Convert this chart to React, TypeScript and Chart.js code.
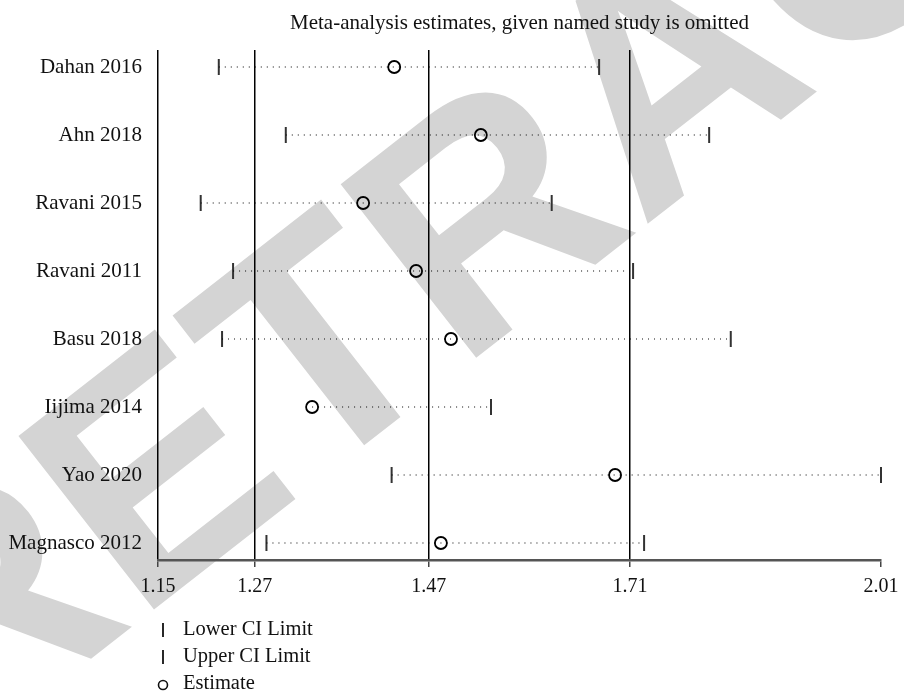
import React, { useEffect, useRef } from "react";
import { Chart, registerables } from "chart.js";

Chart.register(...registerables);

const studies = [
  "Dahan 2016",
  "Ahn 2018",
  "Ravani 2015",
  "Ravani 2011",
  "Basu 2018",
  "Iijima 2014",
  "Yao 2020",
  "Magnasco 2012",
];
const estimates = [1.431, 1.534, 1.394, 1.457, 1.4985, 1.3333, 1.6937, 1.4865];
const lowerCI: (number | null)[] = [1.2223, 1.302, 1.2008, 1.2393, 1.2262, null, 1.4279, 1.279];
const upperCI = [1.6747, 1.8056, 1.6183, 1.7151, 1.8313, 1.5461, 2.01, 1.7282];

const tickValues = [1.15, 1.265, 1.472, 1.7115, 2.01];
const tickLabels = ["1.15", "1.27", "1.47", "1.71", "2.01"];

const titleText = "Meta-analysis estimates, given named study is omitted";
const legendLabels = ["Lower CI Limit", "Upper CI Limit", "Estimate"];
const watermarkText = "RETRACTED";

const SERIF = '"Liberation Serif", "Times New Roman", serif';

export default function App() {
  const canvasRef = useRef<HTMLCanvasElement | null>(null);

  useEffect(() => {
    const canvas = canvasRef.current;
    if (!canvas) return;
    const n = studies.length;
    const yOf = (i: number) => n - i;

    const lineSets = studies.map((s, i) => ({
      type: "line" as const,
      label: s,
      data: [
        { x: lowerCI[i] ?? estimates[i], y: yOf(i) },
        { x: upperCI[i], y: yOf(i) },
      ],
      borderColor: "#000",
      borderWidth: 1.2,
      borderDash: [1, 5],
      pointRadius: 0,
      fill: false,
      clip: false as any,
    }));

    const lowerPts = lowerCI
      .map((v, i) => (v == null ? null : { x: v, y: yOf(i) }))
      .filter((p) => p !== null);
    const upperPts = upperCI.map((v, i) => ({ x: v, y: yOf(i) }));
    const estPts = estimates.map((v, i) => ({ x: v, y: yOf(i) }));

    const capStyle = {
      type: "scatter" as const,
      pointStyle: "line" as const,
      rotation: 90,
      pointRadius: 8,
      pointBorderWidth: 2,
      borderColor: "#333",
      pointBorderColor: "#333",
      clip: false as any,
    };

    const watermark = {
      id: "watermark",
      beforeDraw(chart: any) {
        const ctx = chart.ctx;
        ctx.save();
        ctx.fillStyle = "#d4d4d4";
        ctx.font = 'bold 320px "Liberation Sans", Arial, sans-serif';
        ctx.textBaseline = "alphabetic";
        ctx.textAlign = "left";
        ctx.translate(-45, 765);
        ctx.rotate((-38 * Math.PI) / 180);
        ctx.fillText(watermarkText, 0, 0);
        ctx.restore();
      },
    };

    const annotations = {
      id: "titleLegend",
      afterDraw(chart: any) {
        const ctx = chart.ctx;
        const a = chart.chartArea;
        ctx.save();
        ctx.fillStyle = "#111";
        ctx.font = `21px ${SERIF}`;
        ctx.textAlign = "center";
        ctx.textBaseline = "middle";
        ctx.fillText(titleText, (a.left + a.right) / 2, 23);

        ctx.textAlign = "left";
        ctx.font = `20.5px ${SERIF}`;
        legendLabels.forEach((lab, k) => {
          const y = a.bottom + 70 + k * 27;
          const sx = a.left + 5;
          ctx.strokeStyle = "#111";
          if (k < 2) {
            ctx.lineWidth = 1.8;
            ctx.beginPath();
            ctx.moveTo(sx, y - 7);
            ctx.lineTo(sx, y + 7);
            ctx.stroke();
          } else {
            ctx.lineWidth = 1.6;
            ctx.beginPath();
            ctx.arc(sx, y + 1, 4.5, 0, Math.PI * 2);
            ctx.stroke();
          }
          ctx.fillStyle = "#111";
          ctx.fillText(lab, a.left + 25, y);
        });
        ctx.restore();
      },
    };

    const chart = new Chart(canvas, {
      type: "scatter",
      data: {
        datasets: [
          ...lineSets,
          { ...capStyle, label: "Lower", data: lowerPts as any },
          { ...capStyle, label: "Upper", data: upperPts },
          {
            type: "scatter",
            label: "Estimate",
            data: estPts,
            pointStyle: "circle",
            pointRadius: 6,
            pointBorderWidth: 1.8,
            pointBorderColor: "#000",
            pointBackgroundColor: "rgba(0,0,0,0)",
            clip: false as any,
          },
        ] as any,
      },
      options: {
        animation: false,
        responsive: true,
        maintainAspectRatio: false,
        layout: { padding: { top: 50, right: 23, left: 0, bottom: 0 } },
        plugins: {
          legend: { display: false },
          title: { display: false },
          tooltip: { enabled: false },
        },
        scales: {
          x: {
            type: "linear",
            min: 1.15,
            max: 2.01,
            afterBuildTicks: (axis: any) => {
              axis.ticks = tickValues.map((v) => ({ value: v }));
            },
            afterFit: (s: any) => {
              s.height = 131;
              s.paddingLeft = 0;
              s.paddingRight = 0;
            },
            ticks: {
              autoSkip: false,
              maxRotation: 0,
              padding: 8,
              color: "#111",
              font: { family: SERIF, size: 20 },
              callback: (_v: any, idx: number) => tickLabels[idx],
            },
            grid: {
              color: (c: any) =>
                c.tick && c.tick.value === 2.01 ? "rgba(0,0,0,0)" : "#000",
              tickColor: "#444",
              lineWidth: 1.5,
              tickLength: 7,
              drawTicks: true,
            },
            border: { display: true, color: "#555", width: 2.5 },
          },
          y: {
            type: "linear",
            min: 0.75,
            max: 8.25,
            afterBuildTicks: (axis: any) => {
              axis.ticks = studies.map((_s, i) => ({ value: n - i }));
            },
            afterFit: (s: any) => {
              s.width = 158;
            },
            ticks: {
              autoSkip: false,
              padding: 16,
              color: "#111",
              font: { family: SERIF, size: 21 },
              callback: (v: any) => studies[Math.round(n - Number(v))],
            },
            grid: { display: false, drawTicks: false },
            border: { display: false },
          },
        },
      },
      plugins: [watermark, annotations],
    });

    return () => chart.destroy();
  }, []);

  return (
    <div
      style={{
        position: "absolute",
        left: 0,
        top: 0,
        width: 904,
        height: 691,
        background: "#fff",
      }}
    >
      <canvas ref={canvasRef} />
    </div>
  );
}
